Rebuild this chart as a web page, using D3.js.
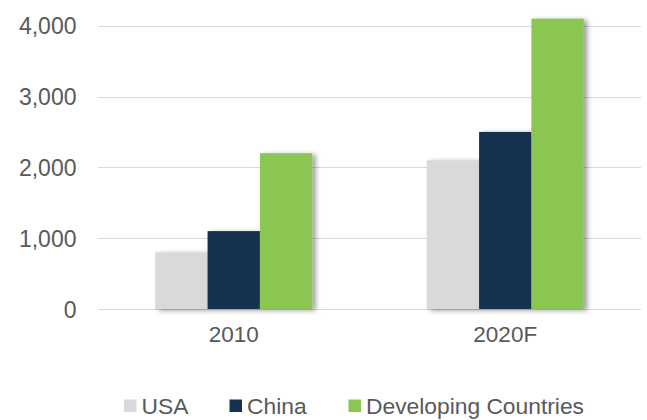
<!DOCTYPE html>
<html>
<head>
<meta charset="utf-8">
<script src="https://cdn.jsdelivr.net/npm/d3@7"></script>
<style>
  html, body { margin: 0; padding: 0; background: #fff; }
  svg { display: block; font-family: Arial, "Liberation Sans", sans-serif; }
</style>
</head>
<body>
<svg id="chart" width="647" height="420"></svg>
<script>
// Data
const categories = ["2010", "2020F"];
const seriesNames = ["USA", "China", "Developing Countries"];
const usaValues = [800, 2100];
const chinaValues = [1100, 2500];
const developingValues = [2200, 4100];
const yTicks = [0, 1000, 2000, 3000, 4000];
const seriesColors = ["#d9d9d9", "#17324f", "#8bc652"];

const seriesValues = [usaValues, chinaValues, developingValues];

const svg = d3.select("#chart");
const textColor = "#595959";

// Plot area
const plot = { left: 98, right: 641, top: 25.7, bottom: 309 };

const x0 = d3.scaleBand()
  .domain(categories)
  .range([plot.left, plot.right])
  .paddingInner(0.4217)
  .paddingOuter(0.21085);

const x1 = d3.scaleBand()
  .domain(seriesNames)
  .range([0, x0.bandwidth()])
  .padding(0);

const y = d3.scaleLinear()
  .domain([0, 4000])
  .range([plot.bottom, plot.top]);

// Soft drop shadow under the bars
const defs = svg.append("defs");
const filt = defs.append("filter")
  .attr("id", "barShadow")
  .attr("x", "-30%").attr("y", "-10%")
  .attr("width", "160%").attr("height", "130%");
filt.append("feDropShadow")
  .attr("dx", 3.5).attr("dy", 1.5)
  .attr("stdDeviation", 2.6)
  .attr("flood-color", "#000")
  .attr("flood-opacity", 0.38);

// Gridlines
svg.append("g")
  .selectAll("line")
  .data(yTicks)
  .join("line")
  .attr("x1", plot.left)
  .attr("x2", plot.right)
  .attr("y1", d => Math.round(y(d)) + 0.5)
  .attr("y2", d => Math.round(y(d)) + 0.5)
  .attr("stroke", "#d9d9d9")
  .attr("stroke-width", 1.2);

// Y axis labels
const yAxis = d3.axisLeft(y)
  .tickValues(yTicks)
  .tickFormat(d3.format(","))
  .tickSize(0)
  .tickPadding(0);
const yG = svg.append("g")
  .attr("transform", `translate(${plot.left - 21.5},0)`)
  .call(yAxis);
yG.select(".domain").remove();
yG.selectAll("text")
  .attr("fill", textColor)
  .attr("font-size", "23px")
  .attr("font-family", "Arial, 'Liberation Sans', sans-serif")
  .attr("dy", "0.36em");

// X axis labels
const xAxis = d3.axisBottom(x0).tickSize(0).tickPadding(0);
const xG = svg.append("g")
  .attr("transform", `translate(0,${plot.bottom})`)
  .call(xAxis);
xG.select(".domain").remove();
xG.selectAll("text")
  .attr("fill", textColor)
  .attr("font-size", "22.5px")
  .attr("font-family", "Arial, 'Liberation Sans', sans-serif")
  .attr("dy", null)
  .attr("y", 33);

// Bars
const groups = svg.append("g")
  .selectAll("g")
  .data(categories)
  .join("g")
  .attr("transform", d => `translate(${x0(d)},0)`);

groups.selectAll("rect")
  .data((c, ci) => seriesNames.map((s, si) => ({ series: s, si, value: seriesValues[si][ci] })))
  .join("rect")
  .attr("x", d => x1(d.series))
  .attr("width", x1.bandwidth())
  .attr("y", d => y(d.value))
  .attr("height", d => y(0) - y(d.value))
  .attr("fill", d => seriesColors[d.si])
  .attr("filter", "url(#barShadow)");

// Legend
const legendItems = [
  { name: "USA", x: 124 },
  { name: "China", x: 229.5 },
  { name: "Developing Countries", x: 348.5 }
];
const legend = svg.append("g");
const li = legend.selectAll("g")
  .data(legendItems)
  .join("g")
  .attr("transform", d => `translate(${d.x},0)`);
li.append("rect")
  .attr("x", 0)
  .attr("y", 399.5)
  .attr("width", 12.5)
  .attr("height", 12.5)
  .attr("fill", (d, i) => seriesColors[i]);
li.append("text")
  .attr("x", 17.5)
  .attr("y", 413.5)
  .attr("fill", textColor)
  .attr("font-size", "22.8px")
  .text(d => d.name);
</script>
</body>
</html>
